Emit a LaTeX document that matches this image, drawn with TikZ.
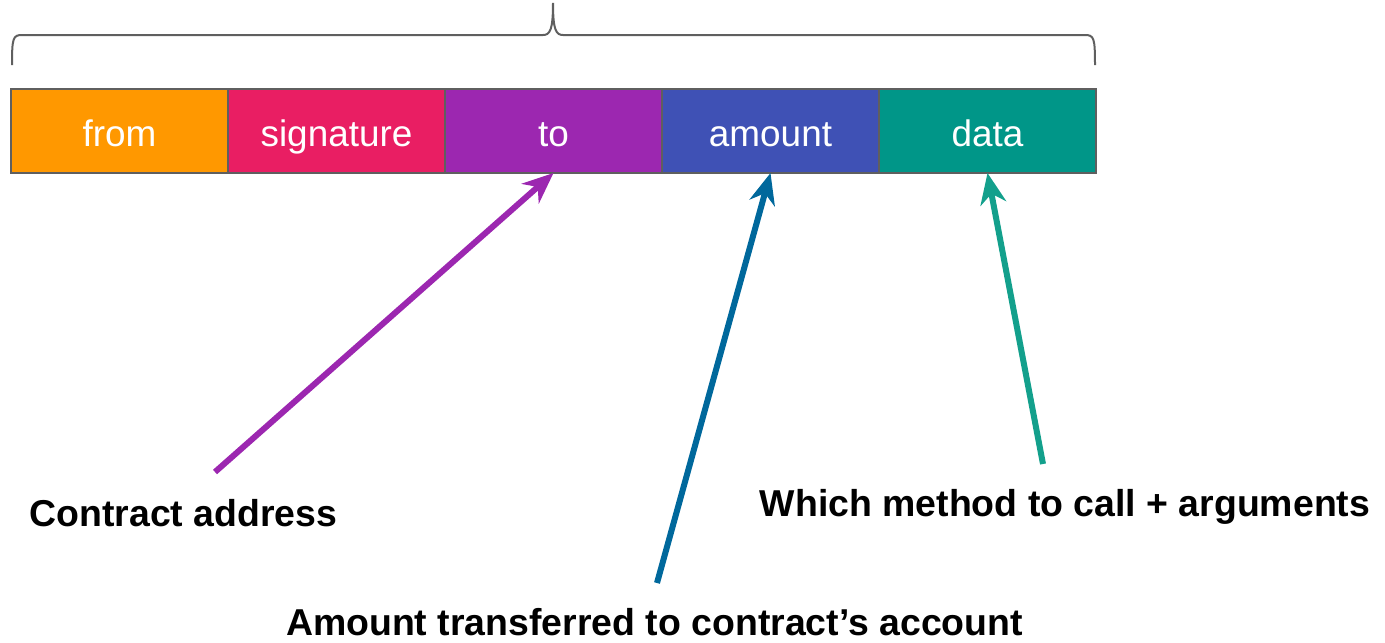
\documentclass[tikz,border=0pt]{standalone}
\usepackage{fontspec}
\setmainfont{Liberation Sans}
\usepackage{tikz}
\usetikzlibrary{positioning,arrows.meta}

\definecolor{fromcol}{HTML}{FF9800}
\definecolor{sigcol}{HTML}{E91E63}
\definecolor{tocol}{HTML}{9C27B0}
\definecolor{amountcol}{HTML}{3F51B5}
\definecolor{datacol}{HTML}{009688}
\definecolor{edgecol}{HTML}{5F5F5F}
\definecolor{bluearrow}{HTML}{00689C}
\definecolor{tealarrow}{HTML}{13A08C}

\begin{document}
\begin{tikzpicture}[
    node distance=0pt,
    field/.style={rectangle, draw=edgecol, line width=0.04cm, outer sep=0pt,
        minimum width=4.34cm, minimum height=1.68cm, text height=0.6cm, text depth=0cm,
        text=white, font=\fontsize{21}{25}\selectfont},
    note/.style={anchor=base, inner sep=0pt, font=\fontsize{21.3}{25}\selectfont\bfseries},
    pointer/.style={line width=0.12cm, -{Stealth[length=0.62cm, width=0.52cm, inset=0.2cm]}}
]
\useasboundingbox (0,0) rectangle (27.7,-12.84);

\node[field, fill=fromcol, anchor=west] (from) at (0.22,-2.62) {from};
\node[field, right=of from, fill=sigcol] (sig) {signature};
\node[field, right=of sig, fill=tocol] (to) {to};
\node[field, right=of to, fill=amountcol] (amount) {amount};
\node[field, right=of amount, fill=datacol] (data) {data};

% brace over the whole message
\draw[edgecol, line width=0.04cm] (0.24,-1.30) .. controls (0.24,-0.76) and (0.26,-0.70) .. (0.44,-0.70)
    -- (10.86,-0.70) .. controls (11.0,-0.70) and (11.06,-0.6) .. (11.06,-0.06)
    .. controls (11.06,-0.6) and (11.12,-0.70) .. (11.26,-0.70)
    -- (21.7,-0.70) .. controls (21.88,-0.70) and (21.9,-0.76) .. (21.9,-1.30);

\node[note] (addr) at (3.67,-10.52) {Contract address};
\node[note] (method) at (21.3,-10.32) {Which method to call + arguments};
\node[note] (transfer) at (13.09,-12.70) {Amount transferred to contract’s account};

\coordinate (addrtail) at (4.30,-9.44);
\coordinate (transfertail) at (13.14,-11.66);
\coordinate (methodtail) at (20.86,-9.28);

\draw[pointer, tocol] (addrtail) -- (to.south);
\draw[pointer, bluearrow] (transfertail) -- (amount.south);
\draw[pointer, tealarrow] (methodtail) -- (data.south);
\end{tikzpicture}
\end{document}
